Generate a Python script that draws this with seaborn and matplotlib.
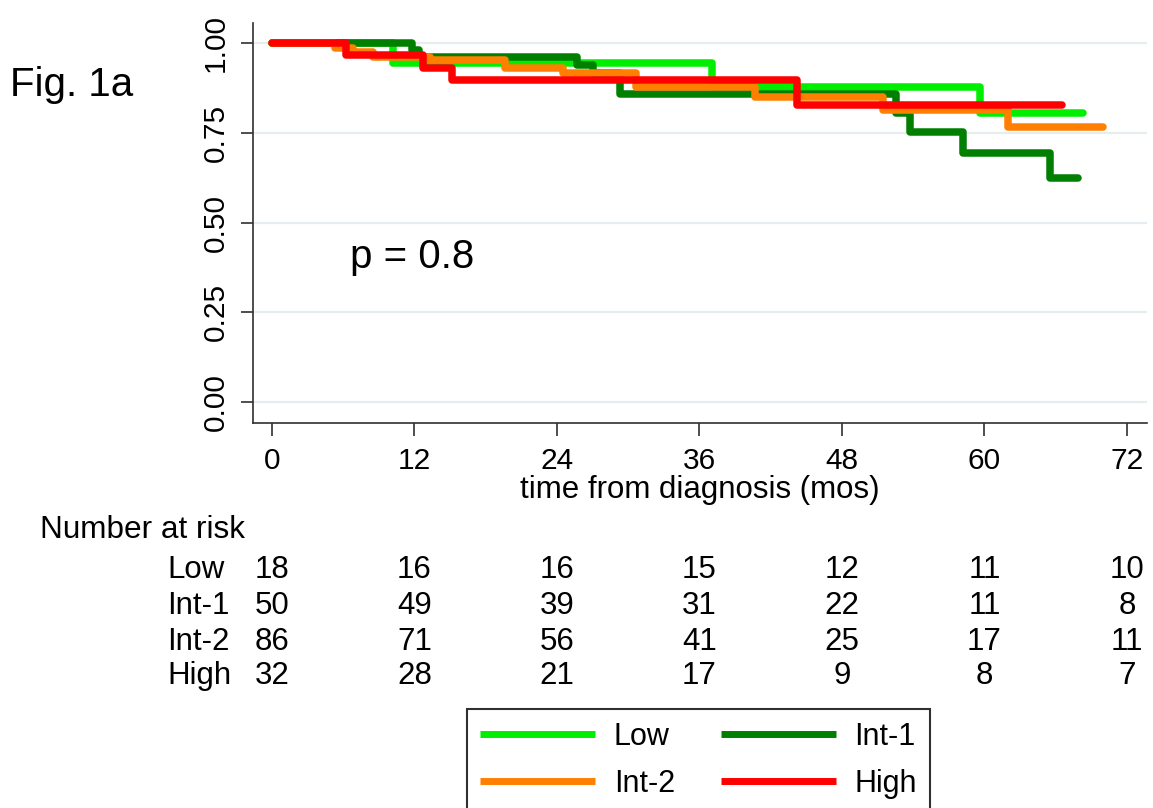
import numpy as np
import pandas as pd
import matplotlib
matplotlib.use("Agg")
import matplotlib.pyplot as plt
import matplotlib.transforms as mtransforms
import seaborn as sns

# ---------------- data ----------------
groups = ["Low", "Int-1", "Int-2", "High"]
colors = ["#00ee00", "#007f00", "#ff8000", "#ff0000"]

low_t = [0, 10.2, 37.1, 59.6, 68.3]
low_s = [1.0, 0.944, 0.877, 0.805, 0.805]

int1_t = [0, 11.8, 12.4, 25.7, 27.0, 29.3, 52.6, 53.7, 58.2, 65.5, 67.9]
int1_s = [1.0, 0.98, 0.961, 0.939, 0.916, 0.858, 0.805, 0.752, 0.694, 0.624, 0.624]

int2_t = [0, 5.3, 6.8, 8.5, 13.3, 19.6, 24.5, 30.7, 40.7, 51.5, 62.0, 70.0]
int2_s = [1.0, 0.986, 0.975, 0.961, 0.953, 0.930, 0.916, 0.877, 0.850, 0.813, 0.766, 0.766]

high_t = [0, 6.2, 12.7, 15.2, 44.2, 66.5]
high_s = [1.0, 0.967, 0.930, 0.897, 0.827, 0.827]

x_ticks = [0, 12, 24, 36, 48, 60, 72]
y_ticks = [0.00, 0.25, 0.50, 0.75, 1.00]
y_ticklabels = ["0.00", "0.25", "0.50", "0.75", "1.00"]

risk_low = [18, 16, 16, 15, 12, 11, 10]
risk_int1 = [50, 49, 39, 31, 22, 11, 8]
risk_int2 = [86, 71, 56, 41, 25, 17, 11]
risk_high = [32, 28, 21, 17, 9, 8, 7]

p_text = "p = 0.8"
fig_label = "Fig. 1a"
x_label = "time from diagnosis (mos)"

# ---------------- frame ----------------
frames = []
for g, t, s in zip(groups, [low_t, int1_t, int2_t, high_t], [low_s, int1_s, int2_s, high_s]):
    frames.append(pd.DataFrame({"time": t, "surv": s, "group": g}))
df = pd.concat(frames, ignore_index=True)

sns.set_theme(style="white")
plt.rcParams["font.family"] = ["Liberation Sans", "DejaVu Sans"]
plt.rcParams["text.color"] = "black"
plt.rcParams["axes.labelcolor"] = "black"
plt.rcParams["xtick.color"] = "black"
plt.rcParams["ytick.color"] = "black"

W, H = 1153, 808
fig = plt.figure(figsize=(W / 100, H / 100), dpi=100)
ax = fig.add_axes([253 / W, 1 - 423 / H, (1147 - 253) / W, (423 - 23) / H])

sns.lineplot(data=df, x="time", y="surv", hue="group", hue_order=groups,
             palette=dict(zip(groups, colors)), drawstyle="steps-post",
             estimator=None, sort=False, lw=5.4, legend=False, ax=ax,
             solid_capstyle="round")

ax.set_xlim(-1.6, 73.7)
ax.set_ylim(-0.058, 1.056)
ax.set_xticks(x_ticks)
ax.set_xticklabels([str(v) for v in x_ticks])
ax.set_yticks(y_ticks)
ax.set_yticklabels(y_ticklabels)
ax.yaxis.grid(True, color="#e6edf1", lw=1.6)
ax.xaxis.grid(False)
ax.set_axisbelow(True)

for side in ["top", "right"]:
    ax.spines[side].set_visible(False)
for side in ["left", "bottom"]:
    ax.spines[side].set_color("#303030")
    ax.spines[side].set_linewidth(1.2)

ax.tick_params(axis="both", direction="out", length=9, width=1.2, color="#303030",
               labelsize=21.5, labelcolor="black", pad=8, left=True, bottom=True)
for lab in ax.get_yticklabels():
    lab.set_rotation(90)
    lab.set_va("center")
    lab.set_ha("right")

ax.set_xlabel(x_label, fontsize=22.5, labelpad=0, color="black")
ax.set_ylabel("")

ax.text(6.6, 0.404, p_text, fontsize=29, ha="left", va="center", color="black")
fig.text(10 / W, 1 - 85 / H, fig_label, fontsize=29, ha="left", va="center", color="black")

# number at risk table
fig.text(40 / W, 1 - 530 / H, "Number at risk", fontsize=22.7, ha="left", va="center",
         color="black")
trans = mtransforms.blended_transform_factory(ax.transData, fig.transFigure)
row_y = [570, 606, 642, 676]
for g, counts, yy in zip(groups, [risk_low, risk_int1, risk_int2, risk_high], row_y):
    fig.text(167 / W, 1 - yy / H, g, fontsize=22.5, ha="left", va="center", color="black")
    for xv, c in zip(x_ticks, counts):
        ax.text(xv, 1 - yy / H, str(c), fontsize=22.5, ha="center", va="center",
                transform=trans, clip_on=False, color="black")

# legend (row-wise: Low, Int-1 / Int-2, High)
lines = dict(zip(groups, ax.get_lines()[:4]))
order = ["Low", "Int-2", "Int-1", "High"]
leg = fig.legend([lines[g] for g in order], order, ncol=2, loc="upper left",
                 bbox_to_anchor=(467 / W, 1 - 709 / H), bbox_transform=fig.transFigure,
                 fontsize=22, frameon=True, fancybox=False, framealpha=1,
                 edgecolor="#303030", borderpad=0.42, handlelength=3.76,
                 handletextpad=0.62, columnspacing=1.5, labelspacing=0.55,
                 borderaxespad=0)
leg.get_frame().set_linewidth(1.5)
for ln in leg.get_lines():
    ln.set_linewidth(5)
    ln.set_solid_capstyle("butt")
for t in leg.get_texts():
    t.set_color("black")

fig.savefig("out.png", dpi=100)
